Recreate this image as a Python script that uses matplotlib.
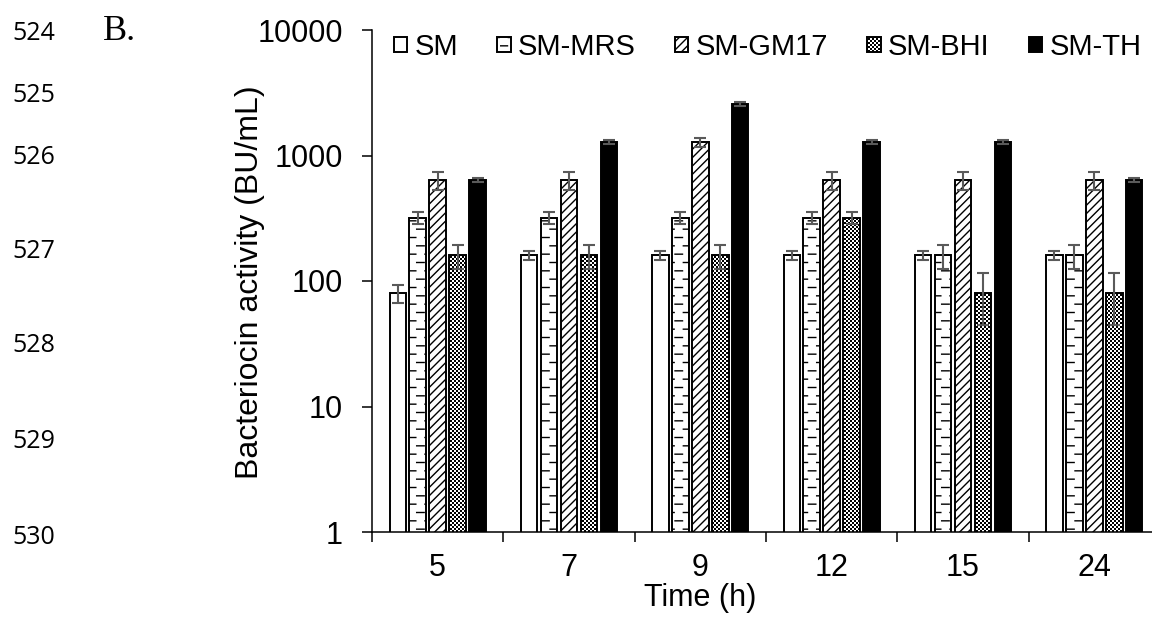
import numpy as np
import matplotlib
matplotlib.use("Agg")
import matplotlib.pyplot as plt
import matplotlib.hatch as mhatch
from matplotlib.path import Path
from matplotlib.ticker import NullLocator

# ---------------- data ----------------
times = ["5", "7", "9", "12", "15", "24"]
series = ["SM", "SM-MRS", "SM-GM17", "SM-BHI", "SM-TH"]
sm_vals = [80, 160, 160, 160, 160, 160]
mrs_vals = [320, 320, 320, 320, 160, 160]
gm17_vals = [640, 640, 1280, 640, 640, 640]
bhi_vals = [160, 160, 160, 320, 80, 80]
th_vals = [640, 1280, 2560, 1280, 1280, 640]
sm_err = [13, 14, 14, 14, 14, 14]
mrs_err = [35, 35, 35, 35, 35, 35]
gm17_err = [105, 105, 110, 105, 105, 105]
bhi_err = [35, 35, 35, 35, 35, 35]
th_err = [20, 40, 100, 40, 40, 25]
y_ticks = [1, 10, 100, 1000, 10000]
y_ticklabels = ["1", "10", "100", "1000", "10000"]
line_numbers = ["524", "525", "526", "527", "528", "529", "530"]
line_number_y = [34, 96, 158, 251, 346, 442, 538]   # pixel rows of the margin numbers
panel_label = "B."


# ------------- custom Excel-like hatch patterns -------------
class DashRows(mhatch.HatchPatternBase):
    """Staggered short horizontal dashes (Excel 'dashed horizontal')."""
    def __init__(self, hatch, density):
        n = hatch.count('-')
        self.rows = 2 * n * density
        self.cols = density
        self.num_vertices = self.rows * self.cols * 2

    def set_vertices_and_codes(self, vertices, codes):
        period = 1.0 / self.cols
        dash = period * 0.45
        k = 0
        for r in range(self.rows):
            y = (r + 0.5) / self.rows
            off = 0.0 if r % 2 == 0 else period / 2
            for c in range(self.cols):
                x0 = c * period + off
                vertices[k] = (x0, y)
                vertices[k + 1] = (x0 + dash, y)
                codes[k] = Path.MOVETO
                codes[k + 1] = Path.LINETO
                k += 2


class Checker(mhatch.HatchPatternBase):
    """Small checkerboard (Excel 'small checkerboard')."""
    def __init__(self, hatch, density):
        n = hatch.count('o')
        self.cells = 50 if n else 0
        self.num_squares = (self.cells * self.cells) // 2
        self.num_vertices = self.num_squares * 5

    def set_vertices_and_codes(self, vertices, codes):
        c = 1.0 / self.cells
        lw = plt.rcParams['hatch.linewidth'] * 100 / 72 / 100.0
        s = max(c - lw, 0.001)
        pad = (c - s) / 2
        k = 0
        for j in range(self.cells):
            for i in range(self.cells):
                if (i + j) % 2:
                    continue
                x0 = i * c + pad
                y0 = j * c + pad
                vertices[k:k + 5] = [(x0, y0), (x0 + s, y0), (x0 + s, y0 + s),
                                     (x0, y0 + s), (x0, y0)]
                codes[k:k + 5] = [Path.MOVETO, Path.LINETO, Path.LINETO,
                                  Path.LINETO, Path.CLOSEPOLY]
                k += 5


mhatch._hatch_types = [t for t in mhatch._hatch_types
                       if t not in (mhatch.HorizontalHatch, mhatch.SmallCircles)]
mhatch._hatch_types += [DashRows, Checker]

# ---------------- figure ----------------
plt.rcParams['font.family'] = ['Liberation Sans', 'DejaVu Sans']
plt.rcParams['hatch.color'] = 'black'
plt.rcParams['hatch.linewidth'] = 1.0

W, H = 1152, 619
fig = plt.figure(figsize=(W / 100, H / 100), dpi=100)
ax_left, ax_right, ax_top, ax_bottom = 372, 1160, 30, 532
ax = fig.add_axes([ax_left / W, 1 - ax_bottom / H,
                   (ax_right - ax_left) / W, (ax_bottom - ax_top) / H])

values = [sm_vals, mrs_vals, gm17_vals, bhi_vals, th_vals]
errors = [sm_err, mrs_err, gm17_err, bhi_err, th_err]
faces = ['white', 'white', 'white', 'white', 'black']
hatches = [None, '-', '////', 'o', None]

x = np.arange(len(times))
step = 0.152
bw = 0.125
handles = []
for i, (name, vals, errs, fc, ht) in enumerate(zip(series, values, errors, faces, hatches)):
    pos = x + (i - 2) * step
    b = ax.bar(pos, vals, width=bw, color=fc, edgecolor='black', linewidth=1.4,
               hatch=ht, label=name, zorder=2)
    ax.errorbar(pos, vals, yerr=errs, fmt='none', ecolor='#5a5a5a',
                elinewidth=1.5, capsize=4.5, capthick=1.5, zorder=3)
    handles.append(b)

ax.set_yscale('log')
ax.set_ylim(1, 10000)
ax.set_yticks(y_ticks)
ax.set_yticklabels(y_ticklabels)
ax.yaxis.set_minor_locator(NullLocator())
ax.set_xlim(-0.5, len(times) - 0.5)
ax.set_xticks(np.arange(-0.5, len(times) + 0.5, 1.0))
ax.set_xticklabels([])
ax.set_xticks(x, minor=True)
ax.set_xticklabels(times, minor=True)
ax.tick_params(axis='x', which='major', direction='out', length=7, width=1.1, color='black')
ax.tick_params(axis='x', which='minor', length=0, pad=15, labelsize=22)
ax.tick_params(axis='y', which='major', direction='out', length=7, width=1.1,
               pad=14, labelsize=22)
for sp in ['top', 'right']:
    ax.spines[sp].set_visible(False)
for sp in ['left', 'bottom']:
    ax.spines[sp].set_linewidth(1.1)
    ax.spines[sp].set_color('black')

leg = ax.legend(handles=handles, loc='center left',
                bbox_to_anchor=(394 / W, 1 - 47 / H), bbox_transform=fig.transFigure,
                ncol=5, frameon=False, fontsize=21, borderpad=0, borderaxespad=0,
                handlelength=0.45, handleheight=0.45, handletextpad=0.25,
                columnspacing=1.35)

fig.text(250 / W, 1 - 282 / H, "Bacteriocin activity (BU/mL)", rotation=90,
         ha='center', va='center', fontsize=23)
fig.text(700 / W, 1 - 598 / H, "Time (h)", ha='center', va='center', fontsize=22)

for lab, yy in zip(line_numbers, line_number_y):
    fig.text(12 / W, 1 - yy / H, lab, ha='left', va='center', fontsize=18,
             family='Open Sans')
fig.text(103 / W, 1 - 31 / H, panel_label, ha='left', va='center', fontsize=26,
         family='Liberation Serif')

fig.savefig("out.png", dpi=100)
